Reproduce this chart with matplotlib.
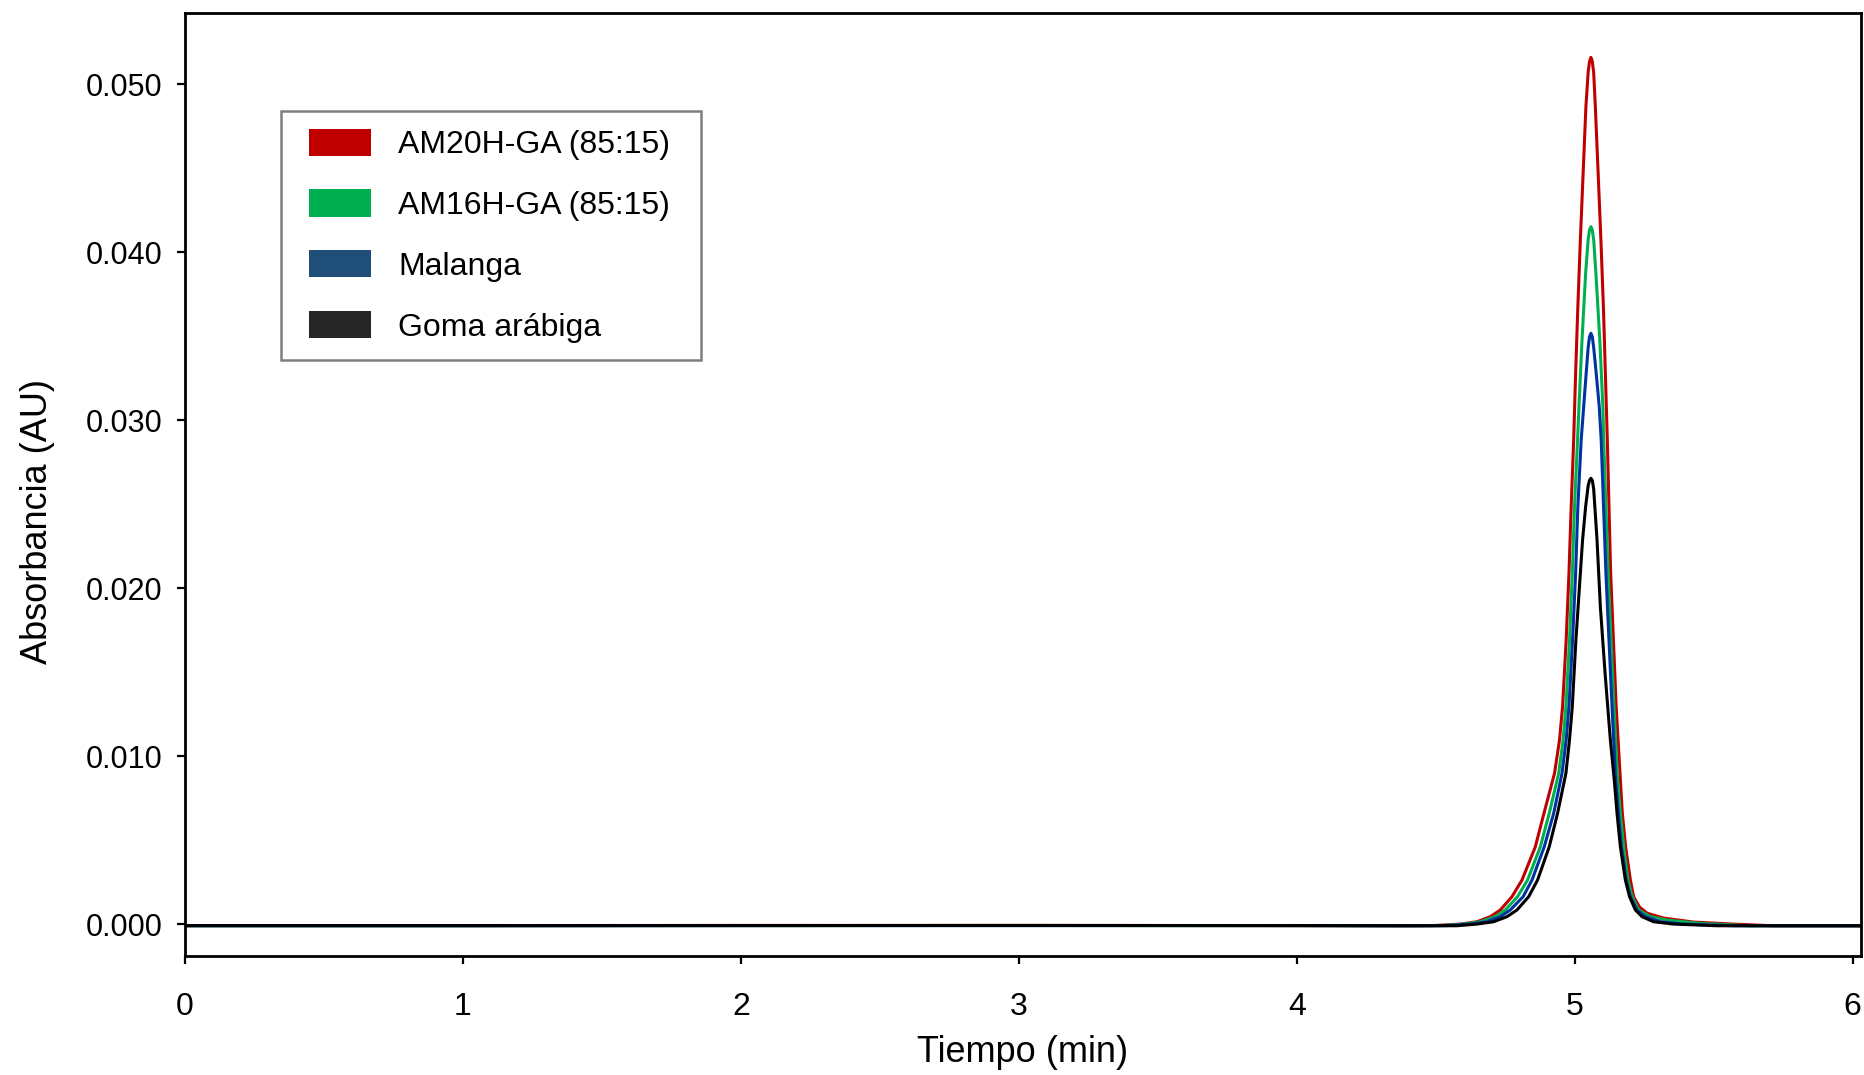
# plot.py
# -*- coding: utf-8 -*-
"""
Cromatograma (absorbancia vs tiempo) de cuatro muestras.
Los puntos se leyeron a mano de la figura original.
"""

import matplotlib
matplotlib.use("Agg")
import matplotlib.pyplot as plt
from matplotlib.legend_handler import HandlerPatch
from matplotlib.patches import Patch, Rectangle
from matplotlib.ticker import FormatStrFormatter

plt.rcParams["font.family"] = ["Liberation Sans", "DejaVu Sans"]

# ========== datos ==========
LABELS = ["AM20H-GA (85:15)", "AM16H-GA (85:15)", "Malanga", "Goma arábiga"]

t_am20 = [0.0, 1.0, 2.0, 3.0, 4.0, 4.37, 4.49, 4.588, 4.648, 4.696, 4.732, 4.774,
          4.810, 4.858, 4.889, 4.927, 4.945, 4.956, 4.969, 4.979, 4.987, 4.996,
          5.003, 5.011, 5.020, 5.030, 5.040, 5.048, 5.053, 5.058, 5.063, 5.068,
          5.074, 5.084, 5.094, 5.103, 5.110, 5.117, 5.129, 5.149, 5.164, 5.171,
          5.183, 5.200, 5.212, 5.233, 5.260, 5.319, 5.427, 5.570, 5.714, 6.03]
a_am20 = [-0.00008, -0.00008, -0.00007, -0.00007, -0.00008, -0.00009, -0.00008,
          0.00001, 0.00015, 0.00045, 0.00085, 0.00164, 0.00263, 0.00461, 0.0066,
          0.00898, 0.01097, 0.01295, 0.01692, 0.02089, 0.02486, 0.02883, 0.0328,
          0.03676, 0.04074, 0.04471, 0.04867, 0.0507, 0.05137, 0.05161, 0.05137,
          0.0507, 0.04865, 0.04472, 0.04073, 0.03674, 0.03282, 0.02883, 0.02091,
          0.01293, 0.00859, 0.00662, 0.0046, 0.00263, 0.00162, 0.00102, 0.00066,
          0.00037, 0.00013, 0.00001, -0.00009, -0.00009]

t_am16 = [0.0, 1.0, 2.0, 3.0, 4.0, 4.40, 4.52, 4.600, 4.660, 4.714, 4.750, 4.794,
          4.830, 4.876, 4.908, 4.942, 4.958, 4.968, 4.981, 4.991, 4.999, 5.010,
          5.015, 5.026, 5.039, 5.048, 5.053, 5.058, 5.063, 5.068, 5.076, 5.090,
          5.101, 5.104, 5.120, 5.141, 5.154, 5.164, 5.176, 5.191, 5.206, 5.230,
          5.272, 5.332, 5.451, 5.631, 6.03]
a_am16 = [-0.00009, -0.00009, -0.00008, -0.00008, -0.00008, -0.00009, -0.00008,
          0.00001, 0.00015, 0.00045, 0.00085, 0.00164, 0.00263, 0.00461, 0.0066,
          0.00898, 0.01097, 0.01295, 0.01692, 0.02089, 0.02486, 0.02883, 0.03081,
          0.03478, 0.03875, 0.04075, 0.04133, 0.04153, 0.04133, 0.04075, 0.03875,
          0.03478, 0.03081, 0.02883, 0.02089, 0.01293, 0.00859, 0.0066, 0.00461,
          0.00263, 0.00164, 0.00085, 0.00045, 0.00025, 0.00005, -0.00009, -0.00009]

t_malanga = [0.0, 1.0, 2.0, 3.0, 4.0, 4.42, 4.54, 4.624, 4.681, 4.732, 4.768,
             4.814, 4.846, 4.890, 4.924, 4.954, 4.969, 4.979, 4.992, 5.003, 5.011,
             5.023, 5.032, 5.041, 5.048, 5.053, 5.058, 5.063, 5.068, 5.077, 5.088,
             5.095, 5.112, 5.134, 5.147, 5.157, 5.168, 5.185, 5.200, 5.224, 5.254,
             5.308, 5.392, 5.571, 6.03]
a_malanga = [-0.00009, -0.00009, -0.00008, -0.00008, -0.00008, -0.00009, -0.00008,
             0.00001, 0.00015, 0.00045, 0.00085, 0.00164, 0.00263, 0.00461, 0.0066,
             0.00898, 0.01097, 0.01295, 0.01692, 0.02089, 0.02486, 0.02883, 0.03081,
             0.0328, 0.03433, 0.03497, 0.03518, 0.03497, 0.03433, 0.0328, 0.03081,
             0.02883, 0.02089, 0.01295, 0.00859, 0.0066, 0.00461, 0.00263, 0.00164,
             0.00085, 0.00045, 0.00015, 0.00001, -0.00009, -0.00009]

t_goma = [0.0, 1.0, 2.0, 3.0, 4.0, 4.45, 4.576, 4.648, 4.708, 4.756, 4.792, 4.834,
          4.866, 4.908, 4.938, 4.968, 4.981, 4.991, 5.004, 5.020, 5.028, 5.039,
          5.048, 5.053, 5.058, 5.063, 5.068, 5.080, 5.092, 5.109, 5.128, 5.142,
          5.152, 5.164, 5.182, 5.197, 5.218, 5.242, 5.283, 5.355, 5.512, 6.03]
a_goma = [-0.00008, -0.00008, -0.00008, -0.00007, -0.00008, -0.00009, -0.00009,
          0.00001, 0.00015, 0.00045, 0.00085, 0.00164, 0.00263, 0.00461, 0.0066,
          0.00898, 0.01097, 0.01295, 0.01692, 0.02089, 0.02288, 0.02486, 0.0261,
          0.02643, 0.02655, 0.02643, 0.0259, 0.02288, 0.0189, 0.01494, 0.01097,
          0.00859, 0.0066, 0.00461, 0.00263, 0.00164, 0.00085, 0.00045, 0.00015,
          0.00001, -0.00009, -0.00009]

Y_TICKS = [0.0, 0.01, 0.02, 0.03, 0.04, 0.05]
X_TICKS = [0, 1, 2, 3, 4, 5, 6]

# ========== estilo ==========
LINE_COLORS = ["#C00000", "#00B050", "#0033A0", "#000000"]
PATCH_COLORS = ["#C00000", "#00B050", "#1F4E79", "#262626"]
LEG_SHIFT = 7.8  # pt, hueco extra a la izquierda del recuadro de color


def shifted_rect(legend, orig_handle, xdescent, ydescent, width, height, fontsize):
    return Rectangle((-xdescent + LEG_SHIFT, -ydescent), width - LEG_SHIFT, height)


def main():
    fig = plt.figure(figsize=(18.65, 10.75), dpi=100)
    ax = fig.add_axes([0.0992, 0.1107, 0.8987, 0.8772])

    series = [(t_am20, a_am20), (t_am16, a_am16), (t_malanga, a_malanga), (t_goma, a_goma)]
    for (t, a), c in zip(series, LINE_COLORS):
        ax.plot(t, a, color=c, lw=2.2, solid_joinstyle="round")

    ax.set_xlim(0, 6.03)
    ax.set_ylim(-0.00189, 0.05425)
    ax.set_xticks(X_TICKS)
    ax.set_yticks(Y_TICKS)
    ax.yaxis.set_major_formatter(FormatStrFormatter("%.3f"))

    for sp in ax.spines.values():
        sp.set_linewidth(2.0)
    ax.tick_params(axis="both", direction="out", length=6, width=1.6)
    ax.tick_params(axis="x", labelsize=23, pad=20)
    ax.tick_params(axis="y", labelsize=22, pad=10)

    ax.set_xlabel("Tiempo (min)", fontsize=26, labelpad=9.5)
    ax.set_ylabel("Absorbancia (AU)", fontsize=26, labelpad=22, y=0.461)

    # leyenda con recuadros de color; el ancho se fija con mode="expand"
    handles = [Patch(facecolor=c, edgecolor="none") for c in PATCH_COLORS]
    leg = ax.legend(
        handles, LABELS, loc="upper left", mode="expand",
        bbox_to_anchor=(0.0573, 0.596, 0.2506, 0.30),
        borderaxespad=0, fontsize=23, handlelength=2.28, handleheight=0.94,
        handletextpad=0.84, labelspacing=0.91, borderpad=0.55,
        fancybox=False, framealpha=1, edgecolor="#7f7f7f",
        handler_map={Patch: HandlerPatch(patch_func=shifted_rect)},
    )
    leg.get_frame().set_linewidth(1.8)

    fig.savefig("out.png", dpi=100)


if __name__ == "__main__":
    main()
